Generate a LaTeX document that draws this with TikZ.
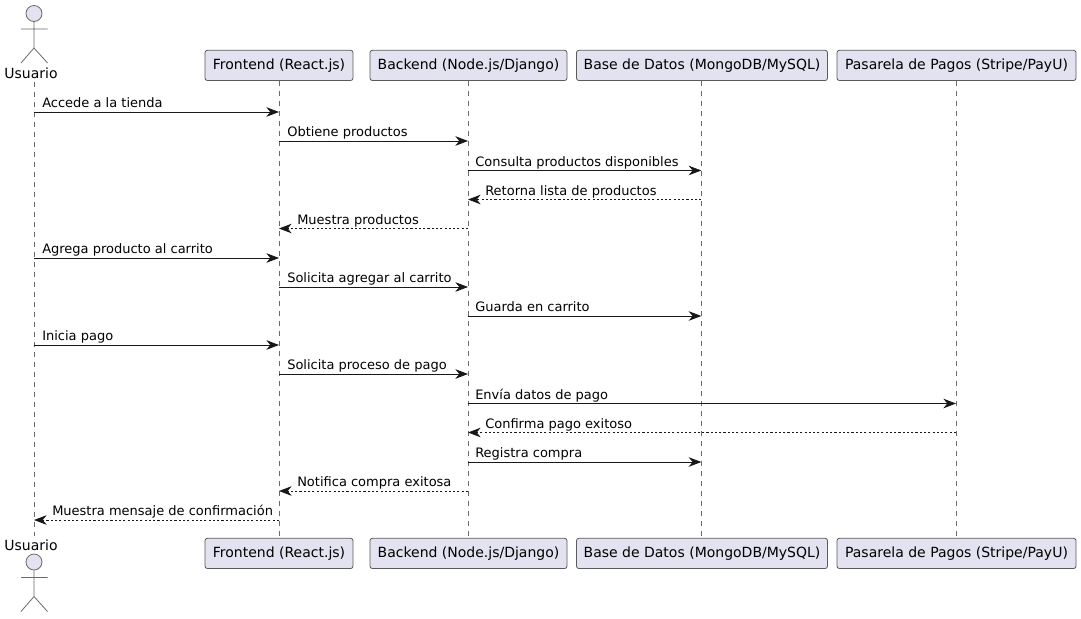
\documentclass[tikz,border=0pt]{standalone}
\usepackage{fontspec}
\setmainfont{DejaVu Sans}
\usetikzlibrary{arrows.meta}
\definecolor{partfill}{HTML}{E2E2F0}
\definecolor{partline}{HTML}{5A5A5A}
\definecolor{lifecol}{HTML}{6A6A6A}
\definecolor{msgline}{HTML}{181818}
\tikzset{
  partbox/.style={draw=partline,fill=partfill,rounded corners=1.8pt,line width=0.6pt,inner sep=0pt,minimum height=22.7pt,font=\fontsize{10.5pt}{12pt}\selectfont,text=black},
  lifeline/.style={draw=lifecol,line width=0.5pt,dash pattern=on 3.75pt off 3.75pt},
  actorline/.style={draw=lifecol,line width=0.6pt,fill=partfill},
  actorlabel/.style={font=\fontsize{10.5pt}{12pt}\selectfont,inner sep=0pt,text=black},
  msg/.style={draw=msgline,line width=0.65pt,-{Stealth[length=9.5pt,width=7.2pt,inset=3pt]}},
  ret/.style={msg,dash pattern=on 1.6pt off 1.6pt},
  msglabel/.style={anchor=base west,inner sep=0pt,font=\fontsize{9.75pt}{12pt}\selectfont,text=black},
}
\newcommand{\partpair}[5]{% name, centre x, width, text, lifeline x
  \coordinate (#1x) at (#5,0);
  \node[partbox,minimum width=#3*0.75pt] (#1top) at (#2,65.4) {\raisebox{-0.5pt}{#4}};
  \node[partbox,minimum width=#3*0.75pt] (#1bot) at (#2,553.4) {\raisebox{-0.5pt}{#4}};
  \draw[lifeline] (#1top.south -| #1x) -- (#1bot.north -| #1x);
}
\newcommand{\actorfig}[2]{% name, head centre y
  \node[actorline,circle,minimum size=12pt,inner sep=0pt] (#1head) at (34,#2) {};
  \coordinate (#1hip) at (34,#2+34.5);
  \coordinate (#1al) at (21,#2+15.5);
  \coordinate (#1ar) at (47.5,#2+15.5);
  \coordinate (#1ll) at (21,#2+49.5);
  \coordinate (#1lr) at (47.5,#2+49.5);
  \draw[actorline,fill=none] (#1head.south) -- (#1hip) (#1al) -- (#1ar) (#1ll) -- (#1hip) -- (#1lr);
}
\newcommand{\msgto}[5]{% id, style, from x, to x, y
  \coordinate (m#1a) at (#3,#5);
  \coordinate (m#1b) at (#4,#5);
  \draw[#2] (m#1a) -- (m#1b);
}
\begin{document}
\begin{tikzpicture}[x=0.75pt,y=-0.75pt]
\useasboundingbox[fill=white] (0,0) rectangle (1081,618);
% participants and lifelines
\actorfig{ut}{13.5}
\actorfig{ub}{562}
\node[actorlabel] (utl) at (31,73) {Usuario};
\node[actorlabel] (ubl) at (31,545) {Usuario};
\coordinate (ux) at (34,0);
\draw[lifeline,shorten <=2.2pt,shorten >=2.2pt] (utl.south -| ux) -- (ubl.north -| ux);
\partpair{f}{279}{148}{Frontend (React.js)}{279}
\partpair{b}{468.5}{197}{Backend (Node.js/Django)}{468}
\partpair{d}{702}{251}{Base de Datos (MongoDB/MySQL)}{701.3}
\partpair{p}{956.5}{239}{Pasarela de Pagos (Stripe/PayU)}{956}
% messages
\def\xu{34}\def\xf{279}\def\xb{468}\def\xd{701.3}\def\xp{956}
\msgto{1}{msg}{\xu}{\xf}{112}
\node[msglabel] (l1) at (42,107.5) {Accede a la tienda};
\msgto{2}{msg}{\xf}{\xb}{141}
\node[msglabel] (l2) at (287,136.5) {Obtiene productos};
\msgto{3}{msg}{\xb}{\xd}{170.5}
\node[msglabel] (l3) at (475,166) {Consulta productos disponibles};
\msgto{4}{ret}{\xd}{\xb}{199.5}
\node[msglabel] (l4) at (485,195) {Retorna lista de productos};
\msgto{5}{ret}{\xb}{\xf}{228.5}
\node[msglabel] (l5) at (297,224) {Muestra productos};
\msgto{6}{msg}{\xu}{\xf}{258}
\node[msglabel] (l6) at (42,253.5) {Agrega producto al carrito};
\msgto{7}{msg}{\xf}{\xb}{287}
\node[msglabel] (l7) at (287,282.5) {Solicita agregar al carrito};
\msgto{8}{msg}{\xb}{\xd}{316}
\node[msglabel] (l8) at (475,311.5) {Guarda en carrito};
\msgto{9}{msg}{\xu}{\xf}{345}
\node[msglabel] (l9) at (42,340.5) {Inicia pago};
\msgto{10}{msg}{\xf}{\xb}{374}
\node[msglabel] (l10) at (287,369.5) {Solicita proceso de pago};
\msgto{11}{msg}{\xb}{\xp}{403.5}
\node[msglabel] (l11) at (475,399) {Envía datos de pago};
\msgto{12}{ret}{\xp}{\xb}{432.5}
\node[msglabel] (l12) at (485,428) {Confirma pago exitoso};
\msgto{13}{msg}{\xb}{\xd}{462}
\node[msglabel] (l13) at (475,457) {Registra compra};
\msgto{14}{ret}{\xb}{\xf}{491}
\node[msglabel] (l14) at (297,486.5) {Notifica compra exitosa};
\msgto{15}{ret}{\xf}{\xu}{520}
\node[msglabel] (l15) at (52,515.5) {Muestra mensaje de confirmación};
\end{tikzpicture}
\end{document}
